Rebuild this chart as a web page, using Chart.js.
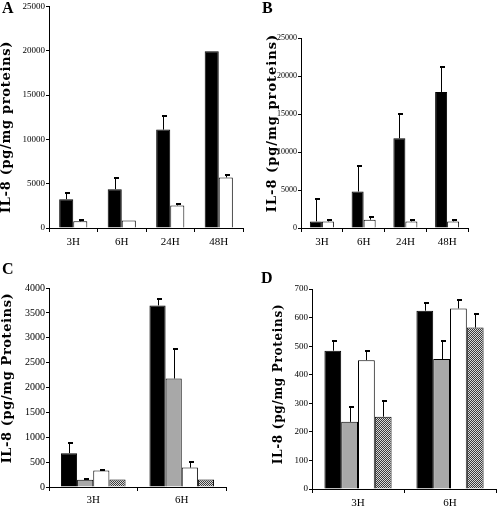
<!DOCTYPE html>
<html>
<head>
<meta charset="utf-8">
<script src="https://cdn.jsdelivr.net/npm/chart.js@4.4.1/dist/chart.umd.min.js"></script>
<style>
  html, body { margin: 0; padding: 0; background: #fff; }
  #wrap { position: relative; width: 498px; height: 511px; overflow: hidden; }
  canvas { position: absolute; }
  .lbl { position: absolute; font: bold 16px "Liberation Serif", serif; color: #000; line-height: 1; }
</style>
</head>
<body>
<div id="wrap">
  <canvas id="cA" width="249" height="250" style="left:0;top:0"></canvas>
  <canvas id="cB" width="249" height="250" style="left:249px;top:0"></canvas>
  <canvas id="cC" width="249" height="261" style="left:0;top:250px"></canvas>
  <canvas id="cD" width="249" height="261" style="left:249px;top:250px"></canvas>
  <div class="lbl" style="left:2px;top:0px">A</div>
  <div class="lbl" style="left:262px;top:0px">B</div>
  <div class="lbl" style="left:2px;top:261px">C</div>
  <div class="lbl" style="left:261px;top:270px">D</div>
</div>
<script>
/* ─── Data ───────────────────────────────────────────────── */
const timesAB = ['3H', '6H', '24H', '48H'];
const timesCD = ['3H', '6H'];

const aBlack    = [3250, 4380, 11100, 19950];
const aBlackErr = [750, 1250, 1550, 0];
const aWhite    = [750, 850, 2550, 5700];
const aWhiteErr = [190, 0, 110, 300];

const bBlack    = [870, 4800, 11800, 17900];
const bBlackErr = [2970, 3370, 3200, 3300];
const bWhite    = [870, 1090, 870, 870];
const bWhiteErr = [220, 300, 220, 130];

const cBlack    = [680, 3650];
const cBlackErr = [210, 120];
const cGray     = [145, 2180];
const cGrayErr  = [15, 590];
const cWhite    = [330, 390];
const cWhiteErr = [10, 110];
const cHatch    = [150, 150];
const cHatchErr = [0, 0];

const dBlack    = [484, 624];
const dBlackErr = [34, 28];
const dGray     = [235, 455];
const dGrayErr  = [53, 62];
const dWhite    = [451, 632];
const dWhiteErr = [33, 28];
const dHatch    = [253, 565];
const dHatchErr = [54, 49];

/* ─── Fills ──────────────────────────────────────────────── */
function hatchPattern() {
  const p = document.createElement('canvas');
  p.width = 2; p.height = 2;
  const g = p.getContext('2d');
  g.fillStyle = '#d8d8d8'; g.fillRect(0, 0, 2, 2);
  g.fillStyle = '#3a3a3a'; g.fillRect(0, 0, 1, 1); g.fillRect(1, 1, 1, 1);
  return g.createPattern(p, 'repeat');
}
const FILL = { black: '#000', gray: '#a8a8a8', white: '#fff', hatch: hatchPattern() };

/* ─── Plugins ────────────────────────────────────────────── */
const errorBars = {
  id: 'errorBars',
  afterDatasetsDraw(chart) {
    const ctx = chart.ctx, y = chart.scales.y;
    ctx.save();
    ctx.strokeStyle = '#000';
    ctx.fillStyle = '#000';
    ctx.lineWidth = 1;
    chart.data.datasets.forEach((ds, di) => {
      if (!ds.errors) return;
      chart.getDatasetMeta(di).data.forEach((bar, i) => {
        const e = ds.errors[i];
        if (!e) return;
        const x = Math.round(bar.x) + 0.5;
        const yTop = Math.round(y.getPixelForValue(ds.data[i] + e));
        ctx.beginPath();
        ctx.moveTo(x, bar.y);
        ctx.lineTo(x, yTop);
        ctx.stroke();
        ctx.fillRect(x - 1.5, yTop - 1, 5, 2);
      });
    });
    ctx.restore();
  }
};

const yTitle = {
  id: 'yTitle',
  afterDraw(chart, args, o) {
    const ctx = chart.ctx;
    ctx.save();
    ctx.translate(o.x, o.y);
    ctx.rotate(-Math.PI / 2);
    ctx.font = `bold ${o.size}px "DejaVu Serif"`;
    ctx.letterSpacing = o.spacing + 'px';
    ctx.fillStyle = '#000';
    ctx.textAlign = 'center';
    ctx.textBaseline = 'middle';
    ctx.fillText(o.text, 0, 0);
    ctx.restore();
  }
};

/* ─── Panel builder ──────────────────────────────────────── */
function panel(id, cats, series, cfg) {
  new Chart(document.getElementById(id), {
    type: 'bar',
    data: {
      labels: cats,
      datasets: series.map(s => ({
        data: s.data,
        errors: s.err,
        backgroundColor: FILL[s.fill],
        borderColor: '#000',
        borderWidth: 1,
        borderSkipped: 'bottom',
        categoryPercentage: cfg.catPct,
        barPercentage: 1
      }))
    },
    options: {
      responsive: false,
      animation: false,
      devicePixelRatio: 1,
      layout: { padding: cfg.pad },
      plugins: {
        legend: { display: false },
        tooltip: { enabled: false },
        yTitle: cfg.title
      },
      scales: {
        x: {
          grid: { display: true, drawOnChartArea: false, offset: true, tickLength: 4, color: '#000' },
          border: { color: '#000' },
          ticks: { color: '#000', padding: cfg.xPad, font: { family: 'Liberation Serif', size: 11 } },
          afterFit: s => { s.height = cfg.xh; }
        },
        y: {
          min: 0, max: cfg.max,
          grid: { drawOnChartArea: false, tickLength: 3, color: '#000' },
          border: { color: '#000' },
          ticks: {
            stepSize: cfg.step, color: '#000', padding: 1,
            font: { family: 'Liberation Serif', size: cfg.yFont },
            callback: v => String(v)
          },
          afterFit: s => { s.width = cfg.yw; }
        }
      }
    },
    plugins: [errorBars, yTitle]
  });
}

panel('cA', timesAB, [
  { data: aBlack, err: aBlackErr, fill: 'black' },
  { data: aWhite, err: aWhiteErr, fill: 'white' }
], { catPct: 0.58, pad: { top: 6, right: 6, left: 0, bottom: 0 }, yw: 49, xh: 22, xPad: 4,
     max: 25000, step: 5000, yFont: 9,
     title: { text: 'IL-8 (pg/mg proteins)', x: 7, y: 127, size: 13, spacing: 0.7 } });

panel('cB', timesAB, [
  { data: bBlack, err: bBlackErr, fill: 'black' },
  { data: bWhite, err: bWhiteErr, fill: 'white' }
], { catPct: 0.575, pad: { top: 38, right: 30, left: 0, bottom: 0 }, yw: 52, xh: 22, xPad: 4,
     max: 25000, step: 5000, yFont: 8,
     title: { text: 'IL-8 (pg/mg proteins)', x: 24, y: 123, size: 13, spacing: 1 } });

panel('cC', timesCD, [
  { data: cBlack, err: cBlackErr, fill: 'black' },
  { data: cGray,  err: cGrayErr,  fill: 'gray' },
  { data: cWhite, err: cWhiteErr, fill: 'white' },
  { data: cHatch, err: cHatchErr, fill: 'hatch' }
], { catPct: 0.73, pad: { top: 38, right: 23, left: 0, bottom: 0 }, yw: 49, xh: 24, xPad: 3,
     max: 4000, step: 500, yFont: 10,
     title: { text: 'IL-8 (pg/mg Proteins)', x: 8, y: 128, size: 13, spacing: 0.6 } });

panel('cD', timesCD, [
  { data: dBlack, err: dBlackErr, fill: 'black' },
  { data: dGray,  err: dGrayErr,  fill: 'gray' },
  { data: dWhite, err: dWhiteErr, fill: 'white' },
  { data: dHatch, err: dHatchErr, fill: 'hatch' }
], { catPct: 0.73, pad: { top: 39, right: 2, left: 0, bottom: 0 }, yw: 63, xh: 22, xPad: 4,
     max: 700, step: 100, yFont: 9,
     title: { text: 'IL-8 (pg/mg Proteins)', x: 30, y: 134, size: 12, spacing: 0.7 } });
</script>
</body>
</html>
